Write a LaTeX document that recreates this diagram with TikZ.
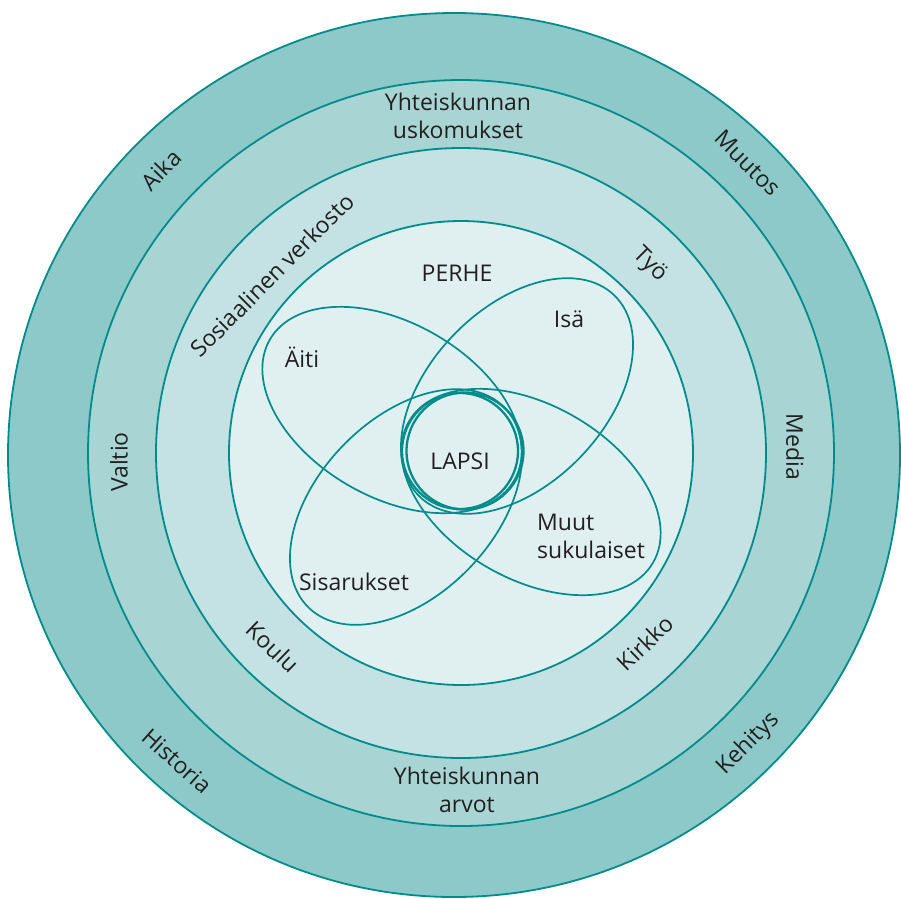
\documentclass[tikz,border=0pt]{standalone}
\usepackage{fontspec}
\setmainfont{Open Sans}
\usepackage{tikz}
\definecolor{tealline}{RGB}{0,140,138}
\definecolor{bandA}{RGB}{142,201,201}
\definecolor{bandB}{RGB}{168,212,212}
\definecolor{bandC}{RGB}{196,226,227}
\definecolor{bandD}{RGB}{224,239,240}
\definecolor{inkgray}{RGB}{35,31,32}

\begin{document}
\begin{tikzpicture}[x=1pt,y=-1pt]
		\tikzset{ring/.style = {draw=tealline, line width=1.8pt}}
		\tikzset{loopline/.style = {draw=tealline, line width=1.7pt}}
		\tikzset{lbl/.style = {text=inkgray, font=\fontsize{23}{28}\selectfont, inner sep=0pt}}

		\useasboundingbox (0,0) rectangle (901,898);

		\coordinate (O) at (461,453);
		\coordinate (L) at (462,451);

		\draw[ring, fill=bandA] (454,455) ellipse [x radius=446, y radius=442];
		\draw[ring, fill=bandB] (O) circle [radius=373];
		\draw[ring, fill=bandC] (O) circle [radius=305];
		\draw[ring, fill=bandD] (O) circle [radius=232];

		\draw[loopline, rotate around={-30:(392,410)}] (392,410) ellipse [x radius=141, y radius=87];
		\draw[loopline, rotate around={-30:(531,492)}] (531,492) ellipse [x radius=141, y radius=87];
		\draw[loopline, rotate around={46:(517,396)}] (517,396) ellipse [x radius=140, y radius=88];
		\draw[loopline, rotate around={46:(406,507)}] (406,507) ellipse [x radius=140, y radius=88];

		\draw[tealline, line width=2.3pt] (460,451) circle [radius=58];
		\draw[tealline, line width=2.3pt] (465,451) circle [radius=58.5];

		\node[lbl, anchor=base] (perhe) at (457,281) {PERHE};
		\node[lbl, anchor=base] (isa) at (569,327) {Isä};
		\node[lbl, anchor=base] (aiti) at (302,367) {Äiti};
		\node[lbl, anchor=base] (lapsi) at (460,469) {LAPSI};
		\node[lbl, anchor=base] (sisar) at (354,590) {Sisarukset};
		\node[lbl, anchor=west, align=left] (muut) at (537,536) {Muut\\sukulaiset};

		\node[lbl, align=center] (usko) at (458,116) {Yhteiskunnan\\uskomukset};
		\node[lbl, align=center] (arvot) at (467,790) {Yhteiskunnan\\arvot};
		\node[lbl, rotate=90] (valtio) at (119,462) {Valtio};
		\node[lbl, rotate=-90] (media) at (795,447) {Media};

		\node[lbl, rotate=45] (sosver) at (272,275) {Sosiaalinen verkosto};
		\node[lbl, rotate=-45] (tyo) at (650,265) {Työ};
		\node[lbl, rotate=-44] (koulu) at (273,647) {Koulu};
		\node[lbl, rotate=44] (kirkko) at (645,643) {Kirkko};

		\node[lbl, rotate=46] (aika) at (161,170) {Aika};
		\node[lbl, rotate=-45] (muutos) at (748,163) {Muutos};
		\node[lbl, rotate=45] (kehitys) at (749,744) {Kehitys};
		\node[lbl, rotate=-42] (historia) at (177,761) {Historia};
\end{tikzpicture}
\end{document}
